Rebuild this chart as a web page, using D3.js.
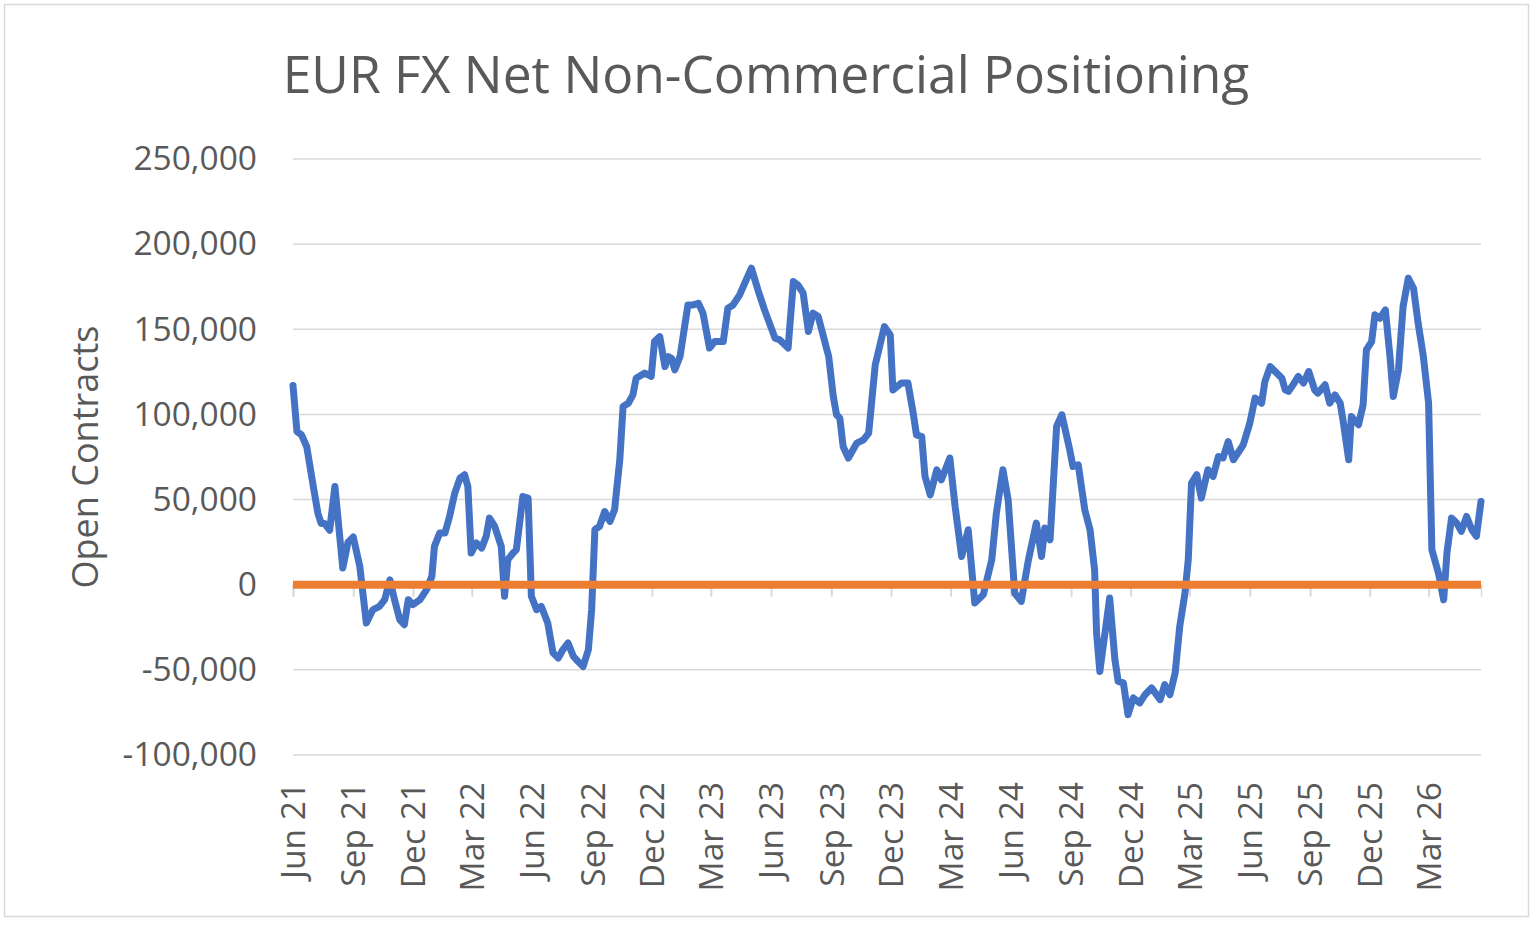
<!DOCTYPE html>
<html>
<head>
<meta charset="utf-8">
<title>EUR FX Net Non-Commercial Positioning</title>
<script src="https://cdn.jsdelivr.net/npm/d3@7"></script>
<style>
    body { margin: 0; background: #fff; }
    svg { display: block; }
    text { font-family: "Open Sans", "Noto Sans", sans-serif; fill: #595959; }
</style>
</head>
<body>
<svg id="chart"></svg>
<script>
const chartTitle = 'EUR FX Net Non-Commercial Positioning';
const yAxisTitle = 'Open Contracts';

const tickLabels = ['Jun 21', 'Sep 21', 'Dec 21', 'Mar 22', 'Jun 22', 'Sep 22', 'Dec 22', 'Mar 23',
    'Jun 23', 'Sep 23', 'Dec 23', 'Mar 24', 'Jun 24', 'Sep 24', 'Dec 24', 'Mar 25', 'Jun 25',
    'Sep 25', 'Dec 25', 'Mar 26'];

const yTicks = [-100000, -50000, 0, 50000, 100000, 150000, 200000, 250000];

// report dates and net positions (contracts)
const weekDates = [
    '2021-06-01', '2021-06-07', '2021-06-14', '2021-06-22', '2021-07-02', '2021-07-09', '2021-07-14', '2021-07-19',
    '2021-07-27', '2021-08-04', '2021-08-16', '2021-08-24', '2021-09-01', '2021-09-11', '2021-09-21', '2021-10-01',
    '2021-10-11', '2021-10-19', '2021-10-27', '2021-11-03', '2021-11-11', '2021-11-18', '2021-11-24', '2021-12-01',
    '2021-12-12', '2021-12-22', '2021-12-30', '2022-01-03', '2022-01-11', '2022-01-19', '2022-01-26', '2022-02-03',
    '2022-02-11', '2022-02-18', '2022-02-23', '2022-02-28', '2022-03-08', '2022-03-16', '2022-03-23', '2022-03-28',
    '2022-04-05', '2022-04-15', '2022-04-20', '2022-04-25', '2022-05-03', '2022-05-08', '2022-05-18', '2022-05-26',
    '2022-05-31', '2022-06-08', '2022-06-15', '2022-06-25', '2022-07-03', '2022-07-11', '2022-07-18', '2022-07-26',
    '2022-08-03', '2022-08-10', '2022-08-18', '2022-08-26', '2022-08-31', '2022-09-05', '2022-09-12', '2022-09-20',
    '2022-09-28', '2022-10-05', '2022-10-13', '2022-10-18', '2022-10-26', '2022-11-02', '2022-11-07', '2022-11-20',
    '2022-11-30', '2022-12-05', '2022-12-13', '2022-12-21', '2022-12-26', '2022-12-31', '2023-01-05', '2023-01-13',
    '2023-01-25', '2023-02-02', '2023-02-10', '2023-02-17', '2023-02-27', '2023-03-07', '2023-03-20', '2023-03-27',
    '2023-04-04', '2023-04-14', '2023-04-24', '2023-05-02', '2023-05-12', '2023-05-22', '2023-06-07', '2023-06-14',
    '2023-06-27', '2023-07-05', '2023-07-12', '2023-07-20', '2023-07-28', '2023-08-04', '2023-08-12', '2023-08-20',
    '2023-08-28', '2023-09-04', '2023-09-09', '2023-09-14', '2023-09-19', '2023-09-27', '2023-10-10', '2023-10-20',
    '2023-10-28', '2023-11-07', '2023-11-21', '2023-11-30', '2023-12-04', '2023-12-17', '2023-12-27', '2024-01-04',
    '2024-01-09', '2024-01-17', '2024-01-22', '2024-01-30', '2024-02-09', '2024-02-16', '2024-02-29', '2024-03-08',
    '2024-03-18', '2024-03-28', '2024-04-07', '2024-04-20', '2024-05-03', '2024-05-10', '2024-05-20', '2024-05-28',
    '2024-06-07', '2024-06-17', '2024-06-28', '2024-07-10', '2024-07-18', '2024-07-23', '2024-07-31', '2024-08-10',
    '2024-08-18', '2024-08-30', '2024-09-04', '2024-09-12', '2024-09-22', '2024-09-30', '2024-10-07', '2024-10-10',
    '2024-10-15', '2024-10-30', '2024-11-07', '2024-11-12', '2024-11-20', '2024-11-27', '2024-12-05', '2024-12-15',
    '2024-12-23', '2025-01-02', '2025-01-15', '2025-01-22', '2025-01-30', '2025-02-07', '2025-02-14', '2025-02-22',
    '2025-02-27', '2025-03-04', '2025-03-12', '2025-03-19', '2025-03-29', '2025-04-06', '2025-04-14', '2025-04-21',
    '2025-04-29', '2025-05-07', '2025-05-22', '2025-06-01', '2025-06-09', '2025-06-19', '2025-06-24', '2025-07-02',
    '2025-07-12', '2025-07-20', '2025-07-25', '2025-07-30', '2025-08-06', '2025-08-14', '2025-08-22', '2025-08-30',
    '2025-09-08', '2025-09-13', '2025-09-24', '2025-10-01', '2025-10-09', '2025-10-17', '2025-10-22', '2025-10-30',
    '2025-11-03', '2025-11-14', '2025-11-21', '2025-11-26', '2025-12-04', '2025-12-09', '2025-12-17', '2025-12-25',
    '2026-01-01', '2026-01-06', '2026-01-14', '2026-01-21', '2026-01-29', '2026-02-06', '2026-02-13', '2026-02-21',
    '2026-03-01', '2026-03-06', '2026-03-16', '2026-03-24', '2026-03-29', '2026-04-05', '2026-04-13', '2026-04-20',
    '2026-04-28', '2026-05-06', '2026-05-13', '2026-05-20'
];

const netPositions = [
    117000, 90000, 88000, 81000, 57700, 42000, 36000, 36000,
    32000, 57700, 9800, 25000, 28000, 10700, -22500, -14700,
    -12700, -8800, 2900, -8800, -20500, -23500, -8800, -11700,
    -8800, -2900, 4900, 22500, 30300, 30300, 40000, 53800,
    62600, 64600, 57700, 18600, 24500, 21500, 28400, 39100,
    34200, 22500, -6800, 14700, 18600, 20500, 51800, 50900,
    -6800, -14700, -12700, -22500, -40000, -43000, -38200, -34200,
    -42000, -45000, -48000, -38200, -14700, 32300, 34200, 43000,
    37200, 44000, 73400, 104700, 106600, 111500, 121300, 124300,
    122300, 142800, 145700, 128100, 134000, 133000, 126200, 134000,
    164300, 164300, 165300, 159500, 139000, 142800, 142800, 162400,
    164300, 170200, 179000, 185900, 173000, 161400, 144800, 143800,
    139000, 178000, 176000, 171200, 148700, 159500, 157500, 145700,
    134000, 110500, 99800, 97800, 81200, 74400, 83200, 85100,
    89000, 129000, 151600, 146700, 114400, 118400, 118400, 100800,
    88000, 87000, 63600, 52800, 67500, 61600, 74400, 46000,
    16600, 32300, -10700, -5900, 14700, 42000, 67500, 49900,
    -4900, -9800, 14700, 36200, 16600, 33300, 26400, 92900,
    99800, 79200, 69400, 70400, 44000, 32300, 8800, -28400,
    -50900, -7800, -44000, -56800, -57700, -76300, -66500, -69400,
    -64600, -60600, -67500, -58700, -64600, -51800, -24500, -4900,
    14700, 59700, 64600, 50900, 67500, 63600, 75300, 74400,
    84100, 73400, 82200, 94900, 109600, 106600, 119300, 128100,
    124300, 121300, 114400, 113500, 117400, 122300, 118400, 125200,
    114400, 112500, 117400, 106600, 111500, 106600, 94900, 73400,
    98800, 93900, 105600, 137900, 142800, 158500, 156500, 161400,
    134000, 110500, 126200, 163300, 180000, 174100, 153600, 134000,
    106600, 20500, 6800, -8800, 18600, 39100, 36200, 31300,
    40100, 32300, 28400, 48900
];

const baselineValue = 0;

class PositioningChart {
    constructor(_config, _data) {
        this.config = {
            parentElement: _config.parentElement,
            containerWidth: 1536,
            containerHeight: 926,
            plot: { left: 293, right: 1481, top: 159, bottom: 755 },
            titleCenter: 766,
            titleBaseline: 93,
            titleWidth: 967,
            labelSize: 33.5,
            xLabelTop: 782,
            yLabelRight: 257
        };
        this.data = _data;
        this.initVis();
    }

    /**
     * Set up svg, scales and static elements
     */
    initVis() {
        let vis = this;
        const p = vis.config.plot;

        vis.svg = d3.select(vis.config.parentElement)
            .attr('width', vis.config.containerWidth)
            .attr('height', vis.config.containerHeight);

        // chart frame
        vis.svg.append('rect')
            .attr('x', 4.5)
            .attr('y', 4.5)
            .attr('width', 1524)
            .attr('height', 912)
            .attr('fill', '#fff')
            .attr('stroke', '#d9d9d9')
            .attr('stroke-width', 1.5);

        vis.xScale = d3.scaleTime()
            .domain(d3.extent(vis.data, d => d.date))
            .range([p.left, p.right]);

        vis.yScale = d3.scaleLinear()
            .domain([d3.min(yTicks), d3.max(yTicks)])
            .range([p.bottom, p.top]);

        // title, fitted to the width it has in the original
        vis.title = vis.svg.append('text')
            .attr('x', vis.config.titleCenter)
            .attr('y', vis.config.titleBaseline)
            .attr('text-anchor', 'middle')
            .style('font-size', '54px')
            .text(chartTitle);
        const w = vis.title.node().getComputedTextLength();
        vis.title.style('font-size', (54 * vis.config.titleWidth / w) + 'px');

        vis.svg.append('text')
            .attr('transform', `translate(98,${(p.top + p.bottom) / 2}) rotate(-90)`)
            .attr('text-anchor', 'middle')
            .style('font-size', '36px')
            .text(yAxisTitle);

        vis.updateVis();
    }

    /**
     * Draw gridlines, axes and the two series
     */
    updateVis() {
        let vis = this;
        const p = vis.config.plot;
        const y0 = vis.yScale(baselineValue);

        // horizontal gridlines
        vis.svg.append('g')
            .selectAll('line')
            .data(yTicks)
            .join('line')
            .attr('x1', p.left)
            .attr('x2', p.right)
            .attr('y1', d => vis.yScale(d))
            .attr('y2', d => vis.yScale(d))
            .attr('stroke', '#d9d9d9')
            .attr('stroke-width', 1.5);

        // y axis labels, plain hyphen for negatives like the original
        const fmt = d3.format(',');
        const yAxis = d3.axisLeft(vis.yScale)
            .tickValues(yTicks)
            .tickSize(0)
            .tickPadding(p.left - vis.config.yLabelRight)
            .tickFormat(d => fmt(d).replace('\u2212', '-'));

        const yAxisG = vis.svg.append('g')
            .attr('transform', `translate(${p.left},0)`)
            .call(yAxis);
        yAxisG.select('.domain').remove();
        yAxisG.selectAll('text')
            .attr('fill', '#595959')
            .style('font-family', '"Open Sans", sans-serif')
            .style('font-size', vis.config.labelSize + 'px');

        // x axis at zero, quarterly ticks with rotated labels
        const parseTick = d3.timeParse('%b %y');
        const tickDates = tickLabels.map(parseTick);

        const xAxis = d3.axisBottom(vis.xScale)
            .tickValues(tickDates)
            .tickSize(12)
            .tickFormat((d, i) => tickLabels[i]);

        const xAxisG = vis.svg.append('g')
            .attr('transform', `translate(0,${y0})`)
            .call(xAxis);
        xAxisG.select('.domain')
            .attr('stroke', '#d9d9d9')
            .attr('stroke-width', 1.5);
        xAxisG.selectAll('.tick line')
            .attr('stroke', '#d9d9d9')
            .attr('stroke-width', 2);
        xAxisG.selectAll('text')
            .attr('fill', '#595959')
            .style('font-family', '"Open Sans", sans-serif')
            .style('font-size', vis.config.labelSize + 'px')
            .attr('transform', 'rotate(-90)')
            .attr('text-anchor', 'end')
            .attr('x', -(vis.config.xLabelTop - y0))
            .attr('y', 0)
            .attr('dy', '0.35em');

        // net positioning line
        const line = d3.line()
            .x(d => vis.xScale(d.date))
            .y(d => vis.yScale(d.value));

        vis.svg.append('path')
            .datum(vis.data)
            .attr('d', line)
            .attr('fill', 'none')
            .attr('stroke', '#4472c4')
            .attr('stroke-width', 7)
            .attr('stroke-linejoin', 'round')
            .attr('stroke-linecap', 'round');

        // zero series drawn on top
        const xDomain = vis.xScale.domain();
        vis.svg.append('path')
            .datum(xDomain.map(d => ({ date: d, value: baselineValue })))
            .attr('d', line)
            .attr('fill', 'none')
            .attr('stroke', '#ed7d31')
            .attr('stroke-width', 8);
    }
}

const parseDate = d3.timeParse('%Y-%m-%d');
const data = weekDates.map((d, i) => ({ date: parseDate(d), value: netPositions[i] }));

new PositioningChart({ parentElement: '#chart' }, data);
</script>
</body>
</html>
